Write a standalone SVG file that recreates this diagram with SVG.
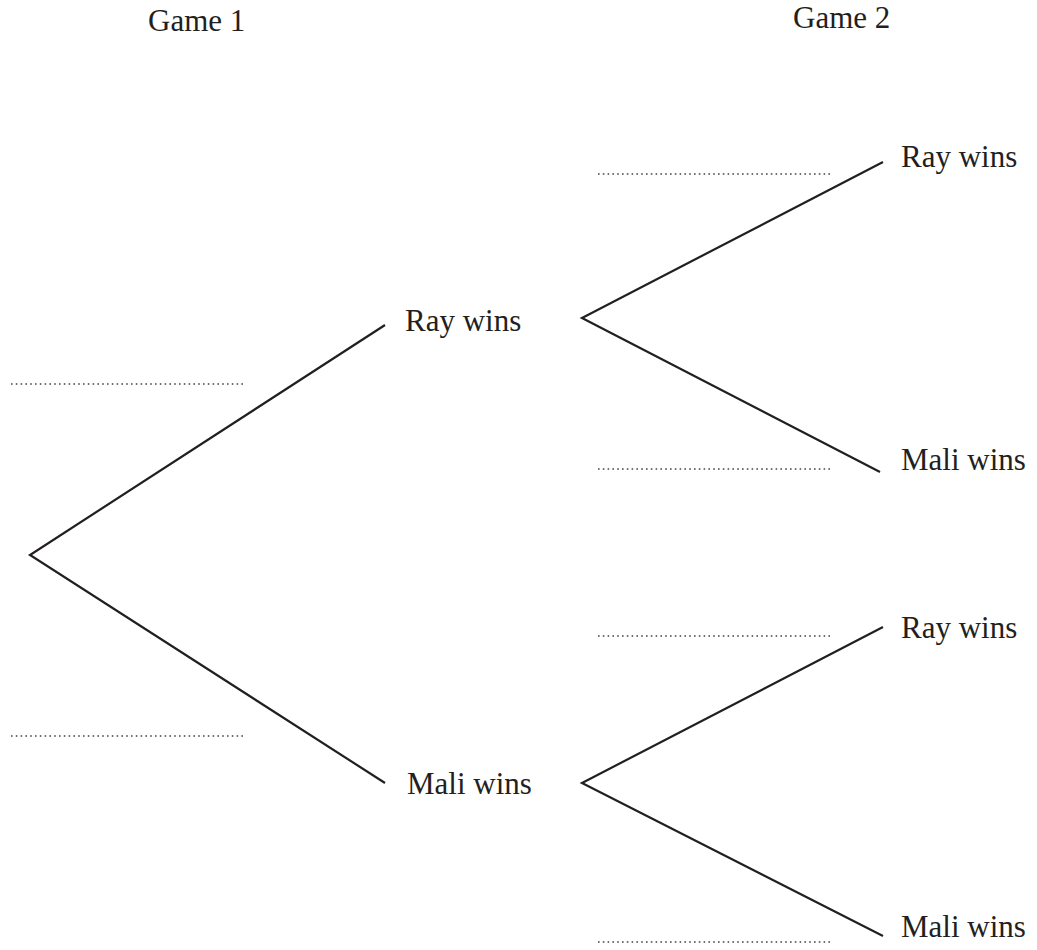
<svg xmlns="http://www.w3.org/2000/svg" width="1037" height="950" viewBox="0 0 1037 950">
  <style>
    .lbl { font-family: "Liberation Serif", "Times New Roman", serif; font-size: 31px; fill: #231f20; }
    .branch { stroke: #231f20; stroke-width: 2.2; fill: none; stroke-linecap: butt; }
    .blank { stroke: #444444; stroke-width: 1.6; stroke-dasharray: 1.6 3.2; fill: none; }
  </style>
  <rect width="1037" height="950" fill="#ffffff"/>

  <!-- column headings -->
  <g id="headings">
    <text class="lbl" x="148" y="31">Game 1</text>
    <text class="lbl" x="793" y="28">Game 2</text>
  </g>

  <!-- tree branches -->
  <g id="connectors">
    <polyline class="branch" points="385,325 30,555 385,783"/>
    <polyline class="branch" points="883,162 582,318 880,472"/>
    <polyline class="branch" points="883,627 582,783 883,936"/>
  </g>

  <!-- answer blanks for probabilities -->
  <g id="blanks">
    <line class="blank" x1="11" y1="384" x2="243" y2="384"/>
    <line class="blank" x1="11" y1="736" x2="243" y2="736"/>
    <line class="blank" x1="598" y1="174" x2="830" y2="174"/>
    <line class="blank" x1="598" y1="469" x2="830" y2="469"/>
    <line class="blank" x1="598" y1="636" x2="830" y2="636"/>
    <line class="blank" x1="598" y1="942" x2="830" y2="942"/>
  </g>

  <g id="g1-ray"><text class="lbl" x="405" y="331">Ray wins</text></g>
  <g id="g1-mali"><text class="lbl" x="407" y="794">Mali wins</text></g>
  <g id="g2-ray-ray"><text class="lbl" x="901" y="167">Ray wins</text></g>
  <g id="g2-ray-mali"><text class="lbl" x="901" y="470">Mali wins</text></g>
  <g id="g2-mali-ray"><text class="lbl" x="901" y="638">Ray wins</text></g>
  <g id="g2-mali-mali"><text class="lbl" x="901" y="937">Mali wins</text></g>
</svg>
